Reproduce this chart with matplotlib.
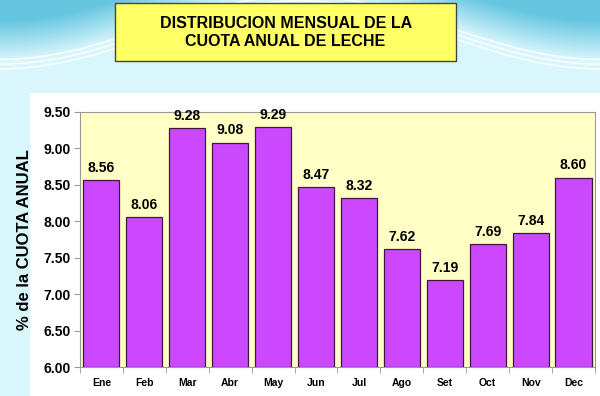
import numpy as np
import matplotlib
matplotlib.use("Agg")
import matplotlib.pyplot as plt
from matplotlib.patches import Rectangle

# datos
meses = ["Ene", "Feb", "Mar", "Abr", "May", "Jun", "Jul", "Ago", "Set", "Oct", "Nov", "Dec"]
cuota = [8.56, 8.06, 9.28, 9.08, 9.29, 8.47, 8.32, 7.62, 7.19, 7.69, 7.84, 8.60]
yticks = [6.00, 6.50, 7.00, 7.50, 8.00, 8.50, 9.00, 9.50]

plt.rcParams['font.family'] = ['Liberation Sans', 'DejaVu Sans']

fig = plt.figure(figsize=(6, 3.96), dpi=100)
fig.patch.set_facecolor("#d9f6fb")

# fondo con degradado en las esquinas de arriba
bg = fig.add_axes([0, 0, 1, 1], zorder=-10)
bg.set_xlim(0, 1)
bg.set_ylim(0, 1)
bg.axis("off")
xx, yy = np.meshgrid(np.linspace(0, 1, 300), np.linspace(0, 1, 200))
edge = 0.93 + 0.08 * np.cos(2 * np.pi * (xx - 0.5))
t = np.clip((yy - edge) / 0.10, 0, 1)
light = np.array([0.85, 0.965, 0.985])
dark = np.array([0.40, 0.78, 0.88])
img = light[None, None, :] * (1 - t[..., None]) + dark[None, None, :] * t[..., None]
bg.imshow(img, extent=[0, 1, 0, 1], origin="lower", aspect="auto")
xs = np.linspace(0, 1, 200)
for a in [0.0, 0.012, 0.024]:
    bg.plot(xs, 0.93 + 0.08 * np.cos(2 * np.pi * (xs - 0.5)) - a, color="white", lw=1.2, alpha=0.8)

# panel blanco
fig.patches.append(Rectangle((0.05, 0), 0.95, 0.765, transform=fig.transFigure,
                             facecolor="white", edgecolor="none", zorder=-5))

# caja del titulo
fig.patches.append(Rectangle((0.192, 0.846), 0.568, 0.146, transform=fig.transFigure,
                             facecolor="#ffff66", edgecolor="#444444", lw=1.0, zorder=1))
fig.text(0.476, 0.919, "DISTRIBUCION MENSUAL DE LA\nCUOTA ANUAL DE LECHE",
         ha="center", va="center", fontsize=11.5, fontweight="bold", linespacing=1.25, zorder=2)

ax = fig.add_axes([0.1333, 0.0732, 0.8583, 0.644])
ax.set_facecolor("#ffffc6")
x = np.arange(len(meses))
ax.bar(x, [v - 6.0 for v in cuota], bottom=6.0, width=0.84, color="#cc48ff",
       edgecolor="#3a1a40", linewidth=0.9, zorder=3)
for xi, v in zip(x, cuota):
    ax.text(xi, v + 0.07, "%.2f" % v, ha="center", va="bottom", fontsize=10, fontweight="bold")

ax.set_xlim(-0.5, len(meses) - 0.5)
ax.set_ylim(6.0, 9.5)
ax.set_yticks(yticks)
ax.set_yticklabels(["%.2f" % v for v in yticks], fontsize=10, fontweight="bold")
ax.set_xticks(x)
ax.set_xticklabels(meses, fontsize=7.5, fontweight="bold")
ax.set_xticks(np.arange(-0.5, len(meses)), minor=True)
ax.tick_params(axis="x", which="major", length=0, pad=8)
ax.tick_params(axis="x", which="minor", length=4, color="#999999")
ax.tick_params(axis="y", length=4, color="#999999", pad=3)
for s in ax.spines.values():
    s.set_color("#999999")
    s.set_linewidth(0.8)
ax.set_ylabel("% de la CUOTA ANUAL", fontsize=12, fontweight="bold", labelpad=8)

fig.savefig("out.png", dpi=100, facecolor=fig.get_facecolor())
